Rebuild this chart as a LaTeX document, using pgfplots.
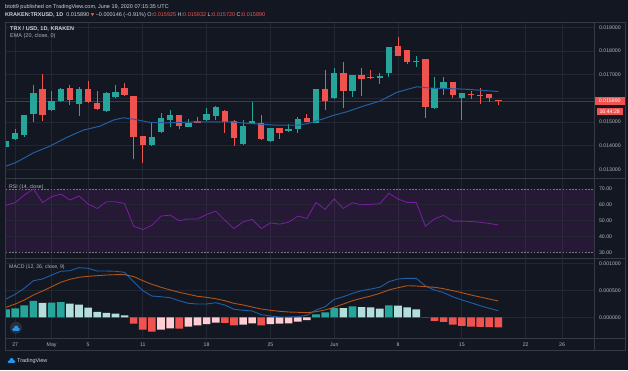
\documentclass[border=0pt]{standalone}
\usepackage{fontspec}
\setmainfont{Liberation Sans}
\newfontfamily\sym{DejaVu Sans}
\usepackage{pgfplots}
\pgfplotsset{compat=1.18}
\usepackage{pgfplotstable}
\definecolor{bg}{HTML}{131722}
\definecolor{gridc}{HTML}{232733}
\definecolor{framec}{HTML}{363A45}
\definecolor{txt}{HTML}{B2B5BE}
\definecolor{hdr}{HTML}{D1D4DC}
\definecolor{cgreen}{HTML}{26A69A}
\definecolor{cred}{HTML}{EF5350}
\definecolor{lgreen}{HTML}{B2DFDB}
\definecolor{lred}{HTML}{FFCDD2}
\definecolor{emac}{RGB}{35,95,160}
\definecolor{rsic}{RGB}{123,31,162}
\definecolor{bandc}{HTML}{9C27B0}
\definecolor{dashc}{HTML}{787B86}
\definecolor{macdc}{RGB}{30,95,170}
\definecolor{sigc}{RGB}{175,85,25}
\definecolor{plc}{RGB}{110,42,48}
\definecolor{iconbg}{HTML}{2A2E39}
\definecolor{tvblue}{HTML}{2196F3}
\def\fs{\fontsize{5.2}{6}\selectfont}

\pgfplotstableread{
d O H L C
-1 0.013955 0.014220 0.013950 0.014208
0 0.014267 0.014690 0.014250 0.014521
1 0.014449 0.015300 0.014377 0.015294
2 0.015336 0.016561 0.015011 0.016211
4 0.015505 0.016321 0.015450 0.015898
5 0.015873 0.016422 0.015850 0.016380
7 0.015759 0.016490 0.015264 0.016405
10 0.015450 0.016260 0.015420 0.016236
11 0.016067 0.016549 0.016000 0.016266
15 0.014027 0.015011 0.014000 0.014365
16 0.014563 0.015366 0.014550 0.015155
17 0.015083 0.015505 0.014800 0.015294
19 0.014800 0.015112 0.014780 0.014969
21 0.015083 0.015577 0.015050 0.015349
22 0.015252 0.015660 0.015083 0.015645
25 0.014056 0.015083 0.014030 0.014829
26 0.014927 0.015831 0.014910 0.015041
28 0.014196 0.014750 0.014180 0.014732
30 0.014631 0.014901 0.014600 0.014703
31 0.014703 0.015222 0.014546 0.015138
33 0.014969 0.016400 0.014950 0.016380
35 0.016000 0.017267 0.015980 0.017056
37 0.016308 0.017000 0.016067 0.016984
40 0.016845 0.017056 0.016604 0.016942
41 0.017081 0.018160 0.016912 0.018154
44 0.017546 0.017787 0.017309 0.017588
46 0.015577 0.016887 0.015560 0.016422
47 0.016380 0.016887 0.016139 0.016688
49 0.016000 0.016240 0.015083 0.016223
}\greenc

\pgfplotstableread{
d O H L C
3 0.016405 0.017013 0.015053 0.015281
6 0.016447 0.016561 0.015729 0.015928
8 0.016380 0.016718 0.015800 0.015843
9 0.015788 0.016321 0.015500 0.015535
12 0.016435 0.016633 0.016120 0.016139
13 0.016097 0.016100 0.013422 0.014352
14 0.014407 0.014410 0.013253 0.014027
18 0.015307 0.015320 0.014690 0.014829
20 0.015041 0.015222 0.014950 0.014969
23 0.015476 0.015490 0.014546 0.015011
24 0.015053 0.015070 0.013984 0.014310
27 0.014943 0.015294 0.014250 0.014267
29 0.014745 0.014760 0.014267 0.014546
32 0.015155 0.015324 0.015000 0.015011
34 0.016380 0.017195 0.015505 0.015898
36 0.017081 0.017546 0.015577 0.016321
38 0.016984 0.017267 0.016097 0.016802
39 0.016887 0.017195 0.016830 0.016845
42 0.018209 0.018577 0.017780 0.017799
43 0.018027 0.018040 0.017436 0.017546
45 0.017647 0.017660 0.015180 0.015645
48 0.016688 0.016700 0.016025 0.016152
50 0.016169 0.016321 0.015957 0.016126
51 0.016152 0.016422 0.015759 0.016084
52 0.016181 0.016200 0.015856 0.016025
53 0.015925 0.015932 0.015720 0.015890
}\redc

\pgfplotsset{
  tvaxis/.style={
    scale only axis, width=588.3pt, anchor=north west,
    xmin=-1.04, xmax=63.5,
    axis line style={draw=none},
    xtick={0,4,8,14,21,28,35,42,49,56,60},
    xmajorgrids,
    major grid style={draw=gridc, line width=0.7pt},
    tick style={draw=none},
    scaled y ticks=false, scaled x ticks=false,
    yticklabel pos=right,
    yticklabel style={font=\fs, text=txt, anchor=west, xshift=1.5pt},
    clip mode=individual,
  },
  wick/.style={only marks, mark=*, mark size=0pt, mark options={draw=none, fill=none, draw opacity=0, fill opacity=0}, forget plot, error bars/.cd, y dir=plus, y explicit, error mark=none, error bar style={draw=#1, line width=0.9pt, solid, draw opacity=1}},
  body/.style={only marks, mark=*, mark size=0pt, mark options={draw=none, fill=none, draw opacity=0, fill opacity=0}, forget plot, error bars/.cd, y dir=plus, y explicit, error mark=none, error bar style={draw=#1, line width=6.4pt, solid, draw opacity=1}},
  hist/.style={ybar, bar width=7.6pt, bar shift=0pt, draw=none, fill=#1, forget plot},
}

\begin{document}
\begin{tikzpicture}
\useasboundingbox (0,0) rectangle (628pt,370pt);
\fill[bg] (0,0) rectangle (628pt,370pt);

% ---------------- price pane
\begin{axis}[tvaxis, at={(5.7pt,348pt)}, height=156.7pt,
  ymin=0.012611, ymax=0.019223, ymajorgrids,
  ytick={0.013,0.014,0.015,0.016,0.017,0.018,0.019},
  yticklabels={0.013000,0.014000,0.015000,{},0.017000,0.018000,0.019000},
  xticklabels={}]
\addplot[plc, line width=0.9pt, forget plot] coordinates {(-1.04,0.01589) (63.5,0.01589)};
\addplot[wick=cgreen] table[x=d, y=L, y error expr=\thisrow{H}-\thisrow{L}] {\greenc};
\addplot[wick=cred] table[x=d, y=L, y error expr=\thisrow{H}-\thisrow{L}] {\redc};
\addplot[body=cgreen] table[x=d, y=O, y error expr=\thisrow{C}-\thisrow{O}] {\greenc};
\addplot[body=cred] table[x=d, y=C, y error expr=\thisrow{O}-\thisrow{C}] {\redc};
\addplot[emac, line width=1pt, forget plot] coordinates {
(-1.04,0.013139) (-0.02,0.013279) (0.9,0.013465) (2.0,0.013701) (3.8,0.013984)
(5.65,0.014352) (7.47,0.014660) (9.3,0.014829) (10.76,0.015083) (11.86,0.015180)
(12.96,0.015125) (14.79,0.014986) (16.6,0.014969) (20.09,0.015011) (23.75,0.015011)
(25.57,0.014943) (28.5,0.014872) (31.06,0.014872) (32.15,0.014943) (33.6,0.015112)
(34.8,0.015270) (36.37,0.015433) (38.19,0.015674) (40.02,0.015886) (41.85,0.016253)
(44.05,0.016490) (45.5,0.016435) (49.16,0.016392) (52.82,0.016295) (53,0.016290)};
\node[fill=cred, text=white, font=\fs, inner sep=0pt, minimum width=31pt, minimum height=7.6pt, anchor=west] (pl) at (axis cs:63.5,0.01589) {0.015890};
\node[fill=cred, text=white, font=\fs, inner sep=0pt, minimum width=26pt, minimum height=7.4pt, anchor=north] at ([yshift=-2.6pt]pl.south) {16:44:28};
\end{axis}

% ---------------- RSI pane
\begin{axis}[tvaxis, at={(5.7pt,191.3pt)}, height=80.1pt,
  ymin=25.89, ymax=76.51,
  ytick={30,40,50,60,70}, yticklabels={30.00,40.00,50.00,60.00,70.00},
  xticklabels={}]
\addplot[draw=none, fill=bandc, fill opacity=0.14, forget plot] coordinates {(-1.04,30) (63.5,30) (63.5,70) (-1.04,70) (-1.04,30)};
\addplot[gridc, line width=0.7pt, forget plot] coordinates {(-1.04,40) (63.5,40)};
\addplot[gridc, line width=0.7pt, forget plot] coordinates {(-1.04,50) (63.5,50)};
\addplot[gridc, line width=0.7pt, forget plot] coordinates {(-1.04,60) (63.5,60)};
\addplot[dashc, line width=0.6pt, dash pattern=on 1.6pt off 1.6pt, forget plot] coordinates {(-1.04,70) (63.5,70)};
\addplot[dashc, line width=0.6pt, dash pattern=on 1.6pt off 1.6pt, forget plot] coordinates {(-1.04,30) (63.5,30)};
\addplot[rsic, line width=0.8pt, forget plot] coordinates {
(-1,59.8) (0,61.3) (1,66.2) (2,70.0) (3,61.5) (4,65.1) (5,66.8) (6,63.0) (7,65.6) (8,60.5)
(9,57.7) (10,61.9) (11,61.9) (12,60.9) (13,46.5) (14,44.4) (15,47.1) (16,52.9) (17,53.5)
(18,49.9) (19,51.1) (20,51.1) (21,53.9) (22,56.0) (23,50.3) (24,45.0) (25,49.2) (26,50.8)
(27,45.0) (28,48.6) (29,47.8) (30,49.0) (31,52.9) (32,51.4) (33,61.5) (34,57.1) (35,63.7)
(36,57.7) (37,61.3) (38,60.0) (39,60.3) (40,60.7) (41,67.3) (42,63.7) (43,61.5) (44,61.5)
(45,46.5) (46,51.1) (47,53.3) (48,49.7) (49,49.7) (50,49.5) (51,49.0) (52,48.2) (53,47.3)};
\end{axis}

% ---------------- MACD pane
\begin{axis}[tvaxis, at={(5.7pt,111.2pt)}, height=79.6pt,
  ymin=-0.0003907, ymax=0.0010833, ymajorgrids,
  ytick={0,0.0005,0.001}, yticklabels={0.000000,0.000500,0.001000},
  xticklabels={27,May,5,11,18,25,Jun,8,15,22,26},
  xticklabel style={font=\fs, text=txt, anchor=base, yshift=-8.4pt}]
\addplot[hist=cgreen] coordinates {(-1,0.000148) (0,0.000167) (1,0.000222) (2,0.000302) (4,0.000270) (5,0.000283) (33,0.000056) (34,0.000093) (35,0.000172) (37,0.000204) (41,0.000222)};
\addplot[hist=lgreen] coordinates {(3,0.000265) (6,0.000252) (7,0.000234) (8,0.000179) (9,0.000099) (10,0.000080) (11,0.000068) (12,0.000037) (36,0.000168) (38,0.000190) (39,0.000185) (40,0.000160) (42,0.000216) (43,0.000185) (44,0.000148)};
\addplot[hist=cred] coordinates {(13,-0.000119) (14,-0.000230) (15,-0.000267) (18,-0.000210) (23,-0.000105) (24,-0.000148) (27,-0.000148) (45,-0.000006) (46,-0.000068) (47,-0.000086) (48,-0.000136) (49,-0.000160) (50,-0.000173) (51,-0.000175) (52,-0.000180) (53,-0.000185)};
\addplot[hist=lred] coordinates {(16,-0.000230) (17,-0.000204) (19,-0.000174) (20,-0.000148) (21,-0.000124) (22,-0.000100) (25,-0.000136) (26,-0.000111) (28,-0.000124) (29,-0.000117) (30,-0.000111) (31,-0.000080) (32,-0.000050)};
\addplot[macdc, line width=0.9pt, forget plot] coordinates {
(-1,0.000339) (0,0.000426) (1,0.000537) (2,0.000678) (3,0.000709) (4,0.000783) (5,0.000852)
(6,0.000863) (7,0.000919) (8,0.000907) (9,0.000857) (10,0.000857) (11,0.000852) (12,0.000833)
(13,0.000659) (14,0.000493) (15,0.000394) (16,0.000381) (17,0.000363) (18,0.000307) (19,0.000259)
(20,0.000246) (21,0.000246) (22,0.000270) (23,0.000228) (24,0.000148) (25,0.000130) (26,0.000117)
(27,0.000048) (28,0.000024) (29,0.000006) (30,0.000006) (31,0.000011) (32,0.000037) (33,0.000135)
(34,0.000196) (35,0.000333) (36,0.000381) (37,0.000444) (38,0.000493) (39,0.000524) (40,0.000556)
(41,0.000659) (42,0.000709) (43,0.000722) (44,0.000722) (45,0.000580) (46,0.000506) (47,0.000456)
(48,0.000381) (49,0.000320) (50,0.000270) (51,0.000215) (52,0.000167) (53,0.000122)};
\addplot[sigc, line width=0.9pt, forget plot] coordinates {
(-1,0.000185) (0,0.000246) (1,0.000320) (2,0.000413) (3,0.000487) (4,0.000567) (5,0.000648)
(6,0.000704) (7,0.000741) (8,0.000759) (9,0.000770) (10,0.000783) (11,0.000789) (12,0.000789)
(13,0.000755) (14,0.000678) (15,0.000611) (16,0.000556) (17,0.000506) (18,0.000463) (19,0.000426)
(20,0.000389) (21,0.000370) (22,0.000344) (23,0.000307) (24,0.000259) (25,0.000228) (26,0.000190)
(27,0.000154) (28,0.000130) (29,0.000111) (30,0.000098) (31,0.000093) (32,0.000085) (33,0.000104)
(34,0.000135) (35,0.000185) (36,0.000246) (37,0.000307) (38,0.000352) (39,0.000394) (40,0.000444)
(41,0.000506) (42,0.000548) (43,0.000585) (44,0.000580) (45,0.000567) (46,0.000556) (47,0.000530)
(48,0.000493) (49,0.000456) (50,0.000413) (51,0.000376) (52,0.000339) (53,0.000302)};
\end{axis}

% ---------------- frames
\begin{scope}[draw=framec, line width=0.8pt]
\draw (5.7pt,348pt) -- (625pt,348pt);
\draw (5.7pt,19.5pt) -- (625pt,19.5pt);
\draw (5.7pt,348pt) -- (5.7pt,19.5pt);
\draw (625pt,348pt) -- (625pt,19.5pt);
\draw (594pt,348pt) -- (594pt,19.5pt);
\draw[line width=1.1pt] (5.7pt,191.3pt) -- (625pt,191.3pt);
\draw[line width=1.1pt] (5.7pt,111.2pt) -- (625pt,111.2pt);
\draw (5.7pt,31.6pt) -- (625pt,31.6pt);
\end{scope}

% ---------------- texts
\node[anchor=west, inner sep=0pt, font=\fontsize{5.5}{6.5}\selectfont, text=hdr] at (5pt,363.3pt)
  {btott9 published on TradingView.com, June 19, 2020 07:15:35 UTC};
\node[anchor=west, inner sep=0pt, font=\fontsize{5.5}{6.5}\selectfont, text=hdr] at (5pt,355pt)
  {\textbf{KRAKEN:TRXUSD, 1D}\ \ 0.015890 {\sym\color{cred}\fontsize{4.5}{5}\selectfont ▼} −0.000146 (−0.91\%) O:\textcolor{cred}{0.015925} H:\textcolor{cred}{0.015932} L:\textcolor{cred}{0.015720} C:\textcolor{cred}{0.015890}};
\node[anchor=west, inner sep=0pt, font=\fontsize{5.5}{6.5}\selectfont\bfseries, text=hdr] at (10pt,341pt) {TRX / USD, 1D, KRAKEN};
\node[anchor=west, inner sep=0pt, font=\fontsize{5.5}{6.5}\selectfont, text=txt] at (10pt,333.5pt) {EMA (20, close, 0)};
\node[anchor=west, inner sep=0pt, font=\fontsize{5.2}{6}\selectfont, text=txt] at (9pt,183.3pt) {RSI (14, close)};
\node[anchor=west, inner sep=0pt, font=\fontsize{5.2}{6}\selectfont, text=txt] at (9pt,102.7pt) {MACD (12, 26, close, 9)};

% tradingview icons
\fill[iconbg] (16pt,42.3pt) circle (6pt);
\fill[tvblue] (13.6pt,40.6pt) circle (1.5pt) (16.2pt,42.3pt) circle (2.1pt) (18.6pt,40.8pt) circle (1.4pt);
\fill[tvblue] (13.6pt,39.1pt) rectangle (18.6pt,40.8pt);
\fill[tvblue] (9pt,8.2pt) circle (1.5pt) (11.6pt,9.9pt) circle (2.1pt) (14pt,8.4pt) circle (1.4pt);
\fill[tvblue] (9pt,6.7pt) rectangle (14pt,8.4pt);
\node[anchor=west, inner sep=0pt, font=\fontsize{5.5}{6.5}\selectfont, text=hdr] at (17pt,8.8pt) {TradingView};
\end{tikzpicture}
\end{document}
